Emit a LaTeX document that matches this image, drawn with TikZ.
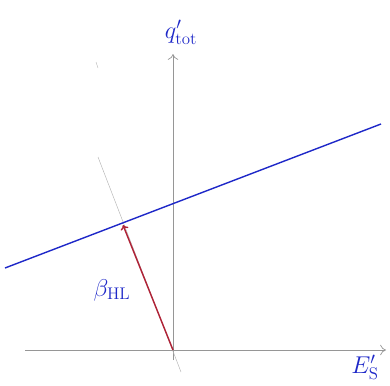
\documentclass[tikz,border=0pt]{standalone}
\usepackage{xcolor}
\definecolor{tintablue}{RGB}{30, 40, 200}
\definecolor{tintared}{RGB}{175, 35, 55}
\definecolor{lapizgray}{RGB}{150, 150, 150}
\usetikzlibrary{calc, arrows.meta}

\begin{document}
\begin{tikzpicture}[
    x=0.03cm, y=-0.03cm,
    axis/.style={semithick, draw=lapizgray, -{To[length=5pt, width=9pt]}},
    guide/.style={thin, draw=lapizgray!70},
    recta/.style={very thick, draw=tintablue},
    vector/.style={very thick, draw=tintared, -{To[length=4pt, width=7pt]}},
    etiqueta/.style={text=tintablue, font=\huge}
]

% Marco de la imagen
\useasboundingbox (0,0) rectangle (390,385);

% Puntos clave
\coordinate (origen) at (173, 350);
\coordinate (xfin) at (386, 350);
\coordinate (xini) at (25, 350);
\coordinate (yfin) at (173, 54);
\coordinate (yini) at (173, 360);
\coordinate (pie) at (123, 225);
\coordinate (izq) at (5, 268);
\coordinate (der) at (381, 124);
\coordinate (gsup) at (98, 157);
\coordinate (ginf) at (181, 372);

% Ejes
\draw[axis] (xini) -- (xfin);
\draw[axis] (yini) -- (yfin);

% Normal a la recta (lapiz)
\draw[guide] (gsup) -- (ginf);
\draw[guide] (96, 62) -- (98, 68);

% Recta
\draw[recta] (izq) -- (der);

% Vector perpendicular
\draw[vector] (origen) -- (pie);

% Etiquetas
\node[etiqueta] (qtot) at (181, 32) {$q'_{\mathrm{tot}}$};
\node[etiqueta] (es) at (365, 367) {$E'_{\mathrm{S}}$};
\node[etiqueta] (beta) at (112, 290) {$\beta_{\mathrm{HL}}$};

\end{tikzpicture}
\end{document}
